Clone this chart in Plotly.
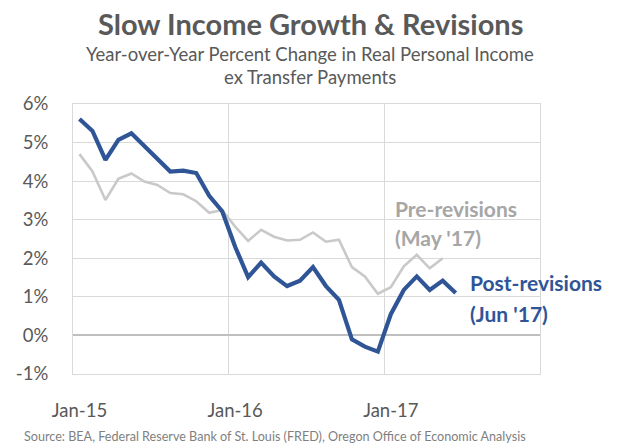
import plotly.graph_objects as go

# Monthly YoY % change, real personal income ex transfer payments, from Jan-15
post_revisions = [5.61, 5.30, 4.55, 5.07, 5.24, 4.92, 4.59, 4.25, 4.27, 4.21,
                  3.62, 3.22, 2.30, 1.51, 1.89, 1.53, 1.28, 1.42, 1.77, 1.28,
                  0.92, -0.10, -0.29, -0.42, 0.55, 1.18, 1.53, 1.18, 1.42, 1.10]
pre_revisions = [4.70, 4.25, 3.51, 4.06, 4.20, 3.99, 3.90, 3.69, 3.66, 3.48,
                 3.18, 3.25, 2.82, 2.45, 2.74, 2.56, 2.46, 2.48, 2.67, 2.43,
                 2.48, 1.77, 1.53, 1.08, 1.25, 1.79, 2.09, 1.74, 2.00]
year_labels = ["Jan-15", "Jan-16", "Jan-17"]
y_ticks = [-1, 0, 1, 2, 3, 4, 5, 6]

BLUE = "#2F5597"
GRAY_LINE = "#C9C9C9"
GRAY_TEXT = "#A6A6A6"
DARK_TEXT = "#595959"
GRID = "#D9D9D9"
FONT = "Lato"

fig = go.Figure()
fig.add_trace(go.Scatter(x=list(range(len(pre_revisions))), y=pre_revisions,
                         mode="lines", line=dict(color=GRAY_LINE, width=2.6),
                         hoverinfo="skip"))
fig.add_trace(go.Scatter(x=list(range(len(post_revisions))), y=post_revisions,
                         mode="lines", line=dict(color=BLUE, width=4.2),
                         hoverinfo="skip"))

fig.update_layout(
    width=620, height=445,
    margin=dict(l=73, r=80, t=104, b=71),
    paper_bgcolor="white", plot_bgcolor="white",
    showlegend=False,
    font=dict(family=FONT, color=DARK_TEXT),
)

fig.update_xaxes(
    range=[-0.5, 35.5],
    tickvals=[0, 12, 24], ticktext=year_labels,
    tickfont=dict(size=18.5, color=DARK_TEXT),
    showgrid=False, ticks="", ticklabelstandoff=20,
    showline=True, linecolor=GRID, linewidth=1, mirror=True,
    minor=dict(tickvals=[11.5, 23.5], showgrid=True, gridcolor=GRID, gridwidth=1),
    zeroline=False,
)
fig.update_yaxes(
    range=[-1, 6],
    tickvals=y_ticks, ticktext=[f"{v}%" for v in y_ticks],
    tickfont=dict(size=18.5, color=DARK_TEXT),
    showgrid=True, gridcolor=GRID, gridwidth=1,
    zeroline=True, zerolinecolor="#BFBFBF", zerolinewidth=1.5,
    showline=True, linecolor=GRID, linewidth=1, mirror=True,
    ticks="", ticklabelstandoff=20,
)

# Title block
fig.add_annotation(text="<b>Slow Income Growth &amp; Revisions</b>", xref="paper", yref="paper",
                   x=0.5, y=1, xanchor="center", yanchor="middle", showarrow=False,
                   font=dict(size=29, color=DARK_TEXT, family=FONT),
                   yshift=104 - 23, xshift=310 - (73 + 467 / 2))
fig.add_annotation(text="Year-over-Year Percent Change in Real Personal Income",
                   xref="paper", yref="paper", x=0.5, y=1, xanchor="center", yanchor="middle",
                   showarrow=False, font=dict(size=18.5, color=DARK_TEXT, family=FONT),
                   yshift=104 - 54, xshift=310 - (73 + 467 / 2))
fig.add_annotation(text="ex Transfer Payments",
                   xref="paper", yref="paper", x=0.5, y=1, xanchor="center", yanchor="middle",
                   showarrow=False, font=dict(size=18.5, color=DARK_TEXT, family=FONT),
                   yshift=104 - 77, xshift=310 - (73 + 467 / 2))

# Series labels, placed beside the line ends
label_font = 21
for text, y in (("<b>Pre-revisions</b>", 3.30), ("<b>(May '17)</b>", 2.53)):
    fig.add_annotation(text=text, xref="x", yref="y", x=24.17, y=y,
                       xanchor="left", yanchor="middle", showarrow=False,
                       font=dict(size=label_font, color=GRAY_TEXT, family=FONT))
for text, y in (("<b>Post-revisions</b>", 1.385), ("<b>(Jun '17)</b>", 0.58)):
    fig.add_annotation(text=text, xref="x", yref="y", x=29.95, y=y,
                       xanchor="left", yanchor="middle", showarrow=False,
                       font=dict(size=label_font, color=BLUE, family=FONT))

# Source line
fig.add_annotation(text="Source: BEA, Federal Reserve Bank of St. Louis (FRED), Oregon Office of Economic Analysis",
                   xref="paper", yref="paper", x=0, y=0, xanchor="left", yanchor="middle",
                   showarrow=False, xshift=22 - 73, yshift=-(436 - 374),
                   font=dict(size=12.6, color="#7F7F7F", family=FONT))

fig.write_html("out.html")
